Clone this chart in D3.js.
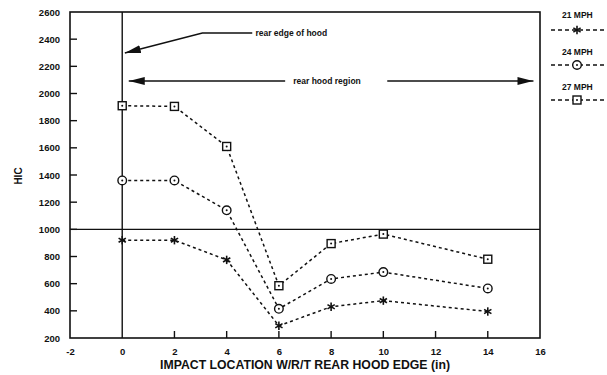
<!DOCTYPE html>
<html>
<head>
<meta charset="utf-8">
<script src="https://cdn.jsdelivr.net/npm/d3@7"></script>
<style>
  html, body { margin: 0; padding: 0; background: #fff; }
  svg { display: block; font-family: "Liberation Sans", Arial, sans-serif; }
</style>
</head>
<body>
<svg id="chart" width="607" height="375"></svg>
<script>
// Impact locations (inches, relative to rear hood edge)
const locations = [0, 2, 4, 6, 8, 10, 14];
// HIC values per impact speed
const hic21 = [920, 920, 775, 290, 430, 475, 395];
const hic24 = [1360, 1360, 1140, 415, 635, 685, 565];
const hic27 = [1910, 1905, 1610, 585, 895, 965, 780];
const seriesNames = ["21 MPH", "24 MPH", "27 MPH"];
const seriesMarkers = ["star", "circle", "square"];
const xTicks = [-2, 0, 2, 4, 6, 8, 10, 12, 14, 16];
const yTicks = [200, 400, 600, 800, 1000, 1200, 1400, 1600, 1800, 2000, 2200, 2400, 2600];

(function () {
const svg = d3.select("#chart");
const plotLeft = 70, plotRight = 540, plotTop = 12, plotBottom = 338;
const ink = "#111";

const x = d3.scaleLinear().domain([-2, 16]).range([plotLeft, plotRight]);
const y = d3.scaleLinear().domain([200, 2600]).range([plotBottom, plotTop]);
const fmt = d => String(d); // plain hyphen for negatives

// Frame
svg.append("rect")
  .attr("x", plotLeft).attr("y", plotTop)
  .attr("width", plotRight - plotLeft).attr("height", plotBottom - plotTop)
  .attr("fill", "none").attr("stroke", ink).attr("stroke-width", 1.6);

// Axes: labels from d3 axes, short inward tick marks
const yAxis = d3.axisLeft(y).tickValues(yTicks).tickSize(0).tickPadding(10).tickFormat(fmt);
const gy = svg.append("g").attr("transform", `translate(${plotLeft},0)`).call(yAxis);
gy.select(".domain").remove();
gy.selectAll("text").attr("font-size", 9.5).attr("font-weight", "bold").attr("fill", ink);
svg.append("g").selectAll("line")
  .data(yTicks.filter(d => d > 200 && d < 2600))
  .join("line")
  .attr("x1", plotLeft).attr("x2", plotLeft + 7)
  .attr("y1", d => y(d)).attr("y2", d => y(d))
  .attr("stroke", ink).attr("stroke-width", 1.4);

const xAxis = d3.axisBottom(x).tickValues(xTicks).tickSize(0).tickPadding(10).tickFormat(fmt);
const gx = svg.append("g").attr("transform", `translate(0,${plotBottom})`).call(xAxis);
gx.select(".domain").remove();
gx.selectAll("text").attr("font-size", 9.5).attr("font-weight", "bold").attr("fill", ink);
svg.append("g").selectAll("line")
  .data(xTicks.filter(d => d > -2 && d < 16 && d !== 0))
  .join("line")
  .attr("x1", d => x(d)).attr("x2", d => x(d))
  .attr("y1", plotBottom).attr("y2", plotBottom - 7)
  .attr("stroke", ink).attr("stroke-width", 1.4);

// Reference lines: rear hood edge (x = 0) and HIC = 1000
svg.append("line")
  .attr("x1", x(0)).attr("x2", x(0)).attr("y1", plotTop).attr("y2", plotBottom)
  .attr("stroke", ink).attr("stroke-width", 1.4);
svg.append("line")
  .attr("x1", plotLeft).attr("x2", plotRight).attr("y1", y(1000)).attr("y2", y(1000))
  .attr("stroke", ink).attr("stroke-width", 1.4);

// Axis titles
svg.append("text")
  .attr("x", 160).attr("y", 369)
  .attr("textLength", 290).attr("lengthAdjust", "spacingAndGlyphs")
  .attr("font-size", 12).attr("font-weight", "bold").attr("fill", ink)
  .text("IMPACT LOCATION W/R/T REAR HOOD EDGE (in)");
svg.append("text")
  .attr("transform", "translate(22,176) rotate(-90)")
  .attr("text-anchor", "middle")
  .attr("font-size", 10).attr("font-weight", "bold").attr("fill", ink)
  .text("HIC");

// Marker drawing
function drawMarker(g, type, cx, cy) {
  if (type === "square") {
    g.append("rect").attr("x", cx - 4).attr("y", cy - 4).attr("width", 8).attr("height", 8)
      .attr("fill", "#fff").attr("stroke", ink).attr("stroke-width", 1.4);
    g.append("circle").attr("cx", cx).attr("cy", cy).attr("r", 1).attr("fill", ink);
  } else if (type === "circle") {
    g.append("circle").attr("cx", cx).attr("cy", cy).attr("r", 4.3)
      .attr("fill", "#fff").attr("stroke", ink).attr("stroke-width", 1.4);
    g.append("circle").attr("cx", cx).attr("cy", cy).attr("r", 1).attr("fill", ink);
  } else {
    const r = 4.2;
    [0, 60, 120].forEach(a => {
      const rad = (a + 90) * Math.PI / 180;
      g.append("line")
        .attr("x1", cx - r * Math.cos(rad)).attr("y1", cy - r * Math.sin(rad))
        .attr("x2", cx + r * Math.cos(rad)).attr("y2", cy + r * Math.sin(rad))
        .attr("stroke", ink).attr("stroke-width", 1.6);
    });
  }
}

// Series
const allSeries = [hic21, hic24, hic27];
const line = d3.line().x(d => x(d[0])).y(d => y(d[1]));
allSeries.forEach((vals, i) => {
  const pts = locations.map((loc, j) => [loc, vals[j]]);
  svg.append("path")
    .attr("d", line(pts))
    .attr("fill", "none").attr("stroke", ink)
    .attr("stroke-width", 1.5).attr("stroke-dasharray", "3,3");
  const g = svg.append("g");
  pts.forEach(p => drawMarker(g, seriesMarkers[i], x(p[0]), y(p[1])));
});

// Legend
const legendY = [[15, 30], [52, 65], [87, 100]];
seriesNames.forEach((name, i) => {
  svg.append("text")
    .attr("x", 562).attr("y", legendY[i][0] + 3)
    .attr("font-size", 8.5).attr("font-weight", "bold").attr("fill", ink)
    .text(name);
  svg.append("line")
    .attr("x1", 551).attr("x2", 605)
    .attr("y1", legendY[i][1]).attr("y2", legendY[i][1])
    .attr("stroke", ink).attr("stroke-width", 1.5).attr("stroke-dasharray", "4,3");
  drawMarker(svg.append("g"), seriesMarkers[i], 577, legendY[i][1]);
});

// Annotation arrows
const defs = svg.append("defs");
defs.append("marker")
  .attr("id", "head").attr("viewBox", "0 0 16 8")
  .attr("refX", 16).attr("refY", 4)
  .attr("markerWidth", 16).attr("markerHeight", 8)
  .attr("markerUnits", "userSpaceOnUse")
  .attr("orient", "auto-start-reverse")
  .append("path").attr("d", "M0,0 L16,4 L0,8 Z").attr("fill", ink);

// "rear edge of hood" pointer
svg.append("path")
  .attr("d", d3.line()([[x(4.98), y(2445)], [x(3.07), y(2445)], [x(0.1), y(2298)]]))
  .attr("fill", "none").attr("stroke", ink).attr("stroke-width", 1.5)
  .attr("marker-end", "url(#head)");
svg.append("text")
  .attr("x", x(5.1)).attr("y", y(2445) + 3)
  .attr("font-size", 8.5).attr("font-weight", "bold").attr("fill", ink)
  .text("rear edge of hood");

// "rear hood region" span
svg.append("line")
  .attr("x1", x(6.24)).attr("x2", x(0.25)).attr("y1", y(2092)).attr("y2", y(2092))
  .attr("stroke", ink).attr("stroke-width", 1.5).attr("marker-end", "url(#head)");
svg.append("line")
  .attr("x1", x(10.15)).attr("x2", x(15.75)).attr("y1", y(2092)).attr("y2", y(2092))
  .attr("stroke", ink).attr("stroke-width", 1.5).attr("marker-end", "url(#head)");
svg.append("text")
  .attr("x", x(6.55)).attr("y", y(2092) + 3)
  .attr("font-size", 8.5).attr("font-weight", "bold").attr("fill", ink)
  .text("rear hood region");
})();
</script>
</body>
</html>
